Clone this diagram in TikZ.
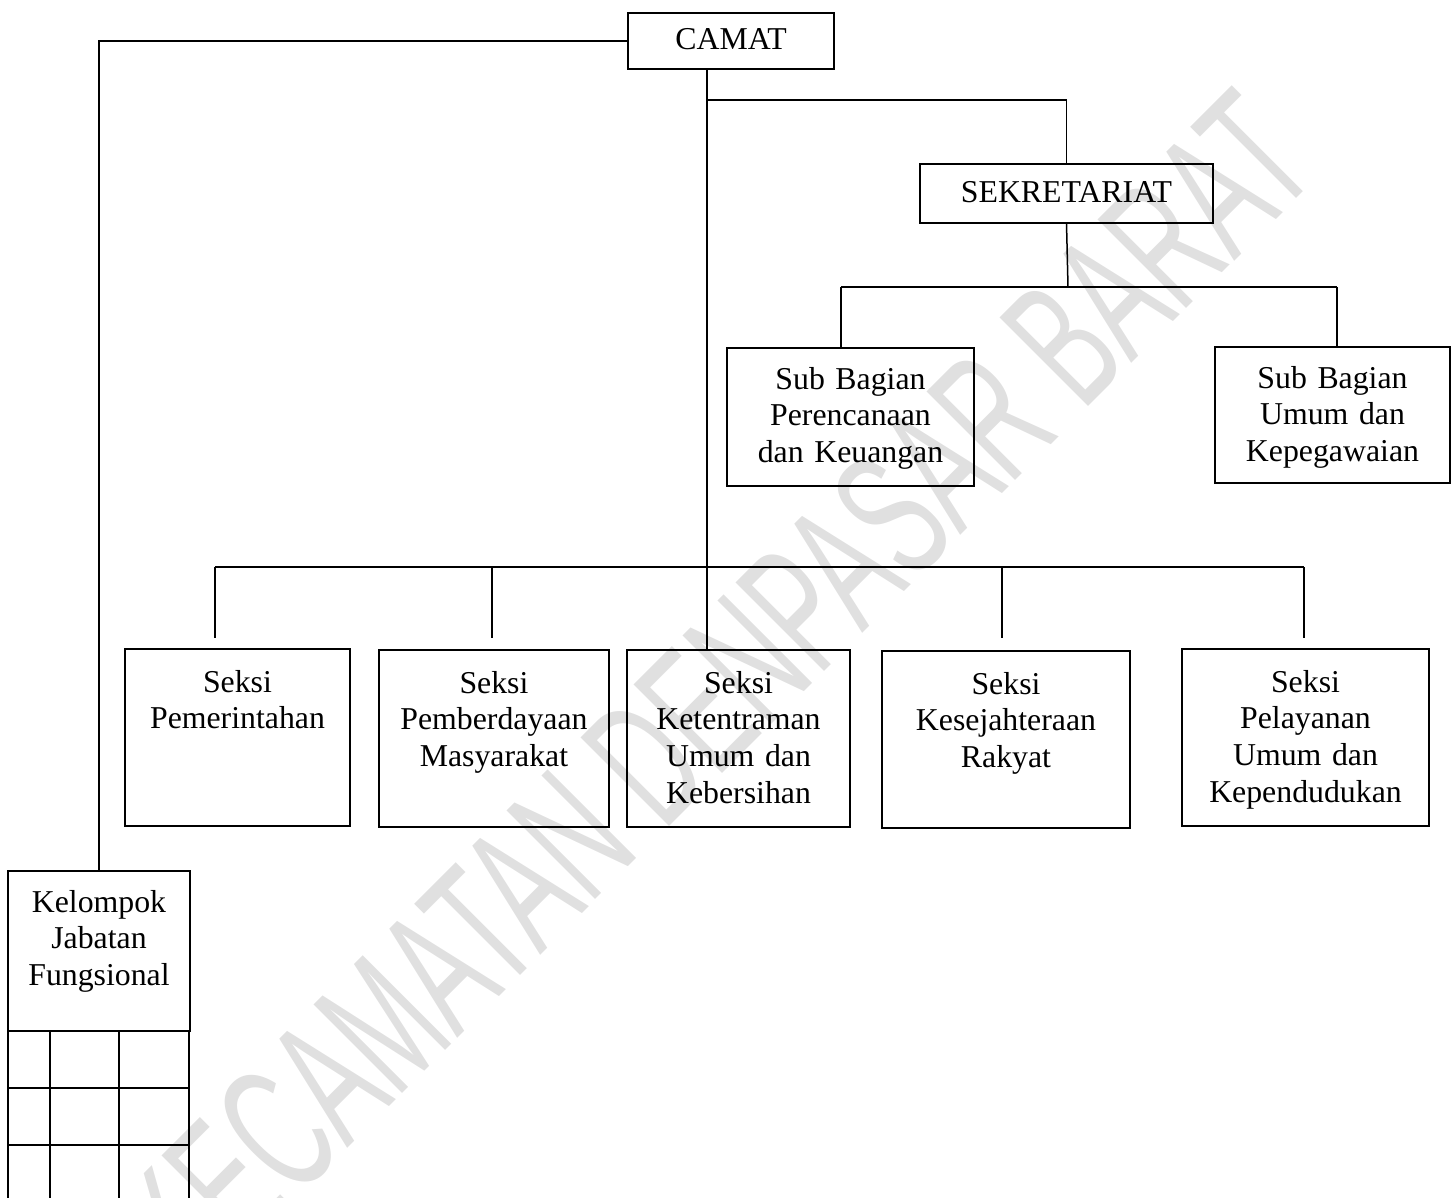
\documentclass[tikz,border=0pt]{standalone}
\usepackage{fontspec}
\usepackage{graphicx}
\setmainfont{Liberation Serif}
\newfontfamily\wmfont{Liberation Sans}
\definecolor{wmgray}{HTML}{E0E0E0}
\tikzset{
  orgbox/.style={draw, line width=2.6pt, inner sep=0pt, outer sep=0pt},
  lbl/.style={inner sep=0pt, outer sep=0pt, text width=320pt, align=center,
              font=\fontsize{31.8}{36.8}\selectfont},
  conn/.style={line width=1.5pt},
  bus/.style={line width=2.2pt},
  gridline/.style={line width=2.6pt},
}
\newcommand\mkbox[5]{%
  \node[orgbox, minimum width={(#4-#2)*1pt}, minimum height={(#5-#3)*1pt}]
    (#1) at ({(#2+#4)/2},{(#3+#5)/2}) {};}
\begin{document}
\begin{tikzpicture}[x=1pt,y=-1pt]
\useasboundingbox (0,0) rectangle (1456,1198);

% watermark
\node[rotate=45, inner sep=0pt, outer sep=0pt, text=wmgray] (wmk) at (715,692)
  {\resizebox{1593pt}{127pt}{\wmfont KECAMATAN DENPASAR BARAT}};

% boxes
\mkbox{camat}{628}{13}{834}{69}
\mkbox{sekr}{920}{164}{1213}{223}
\mkbox{sbp}{727}{348}{974}{486}
\mkbox{sbu}{1215}{347}{1450}{483}
\mkbox{s1}{125}{649}{350}{826}
\mkbox{s2}{379}{650}{609}{827}
\mkbox{s3}{627}{650}{850}{827}
\mkbox{s4}{882}{651}{1130}{828}
\mkbox{s5}{1182}{649}{1429}{826}
\mkbox{kjf}{8}{871}{190}{1031}

% labels
\node[lbl, anchor=base] (camat-t) at ([yshift=-37pt]camat.north) {CAMAT};
\node[lbl, anchor=base] (sekr-t) at ([yshift=-39pt]sekr.north) {SEKRETARIAT};
\node[lbl, anchor=base] (sbp-t) at ([yshift=-41pt]sbp.north) {Sub Bagian\\Perencanaan\\dan Keuangan};
\node[lbl, anchor=base] (sbu-t) at ([yshift=-41pt]sbu.north) {Sub Bagian\\Umum dan\\Kepegawaian};
\node[lbl, anchor=base] (s1-t) at ([yshift=-43pt]s1.north) {Seksi\\Pemerintahan};
\node[lbl, anchor=base] (s2-t) at ([yshift=-43pt]s2.north) {Seksi\\Pemberdayaan\\Masyarakat};
\node[lbl, anchor=base] (s3-t) at ([yshift=-43pt]s3.north) {Seksi\\Ketentraman\\Umum dan\\Kebersihan};
\node[lbl, anchor=base] (s4-t) at ([yshift=-43pt]s4.north) {Seksi\\Kesejahteraan\\Rakyat};
\node[lbl, anchor=base] (s5-t) at ([yshift=-43pt]s5.north) {Seksi\\Pelayanan\\Umum dan\\Kependudukan};
\node[lbl, anchor=base] (kjf-t) at ([yshift=-41pt]kjf.north) {Kelompok\\Jabatan\\Fungsional};

% connector coordinates
\coordinate (trunk) at (707,69);
\coordinate (br) at (707,100);
\coordinate (sbl) at (841,287);
\coordinate (sbr) at (1337,287);
\coordinate (sbmid) at (1068,287);
\coordinate (busl) at (215,567);
\coordinate (busr) at (1304,567);
\coordinate (d1) at (215,638);
\coordinate (d2) at (492,638);
\coordinate (d4) at (1002,638);
\coordinate (d5) at (1304,638);

% CAMAT -> Kelompok Jabatan Fungsional
\draw[conn] (camat.west) -| (kjf.north);
% trunk
\draw[conn] (trunk) -- (trunk |- s3.north);
% to sekretariat
\draw[bus] (br) -- (br -| sekr.north);
\draw[conn] (br -| sekr.north) -- (sekr.north);
% sekretariat to sub bagian
\draw[conn] (sekr.south) -- (sbmid);
\draw[bus] (sbl) -- (sbr);
\draw[conn] (sbl) -- (sbl |- sbp.north);
\draw[conn] (sbr) -- (sbr |- sbu.north);
% bus to seksi
\draw[bus] (busl) -- (busr);
\draw[conn] (busl) -- (d1);
\draw[conn] (busl -| d2) -- (d2);
\draw[conn] (busl -| d4) -- (d4);
\draw[conn] (busr) -- (d5);

% grid below Kelompok Jabatan Fungsional
\draw[gridline] (kjf.south west) -- (8,1198);
\draw[gridline] (50,1031) -- (50,1198);
\draw[gridline] (119,1031) -- (119,1198);
\draw[gridline] (189,1031) -- (189,1198);
\draw[gridline] (8,1088) -- (189,1088);
\draw[gridline] (8,1145) -- (189,1145);
\end{tikzpicture}
\end{document}
